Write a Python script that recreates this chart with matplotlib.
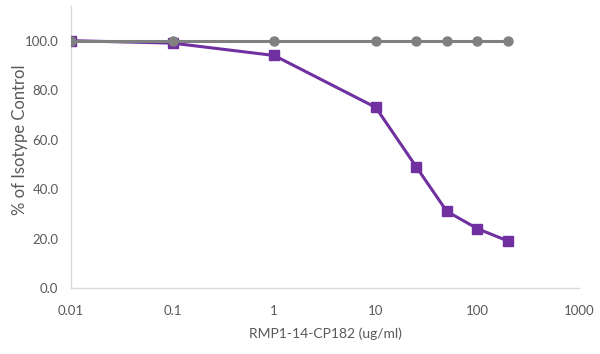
import matplotlib
matplotlib.use("Agg")
import matplotlib.pyplot as plt
from matplotlib.ticker import FixedLocator, FuncFormatter

conc = [0.01, 0.1, 1, 10, 25, 50, 100, 200]
antibody = [100.0, 99.0, 94.0, 73.0, 49.0, 31.0, 24.0, 19.0]
isotype = [100.0, 100.0, 100.0, 100.0, 100.0, 100.0, 100.0, 100.0]

xticks = [0.01, 0.1, 1, 10, 100, 1000]
xtick_labels = ["0.01", "0.1", "1", "10", "100", "1000"]
yticks = [0, 20, 40, 60, 80, 100]

plt.rcParams['font.family'] = ['Lato', 'DejaVu Sans']
text_color = "#595959"

fig = plt.figure(figsize=(6, 3.54), dpi=100)
ax = fig.add_axes([0.1183, 0.1864, 0.8467, 0.7966])

ax.plot(conc, antibody, color="#7030A0", lw=2.2, marker="s", ms=6.5, zorder=3)
ax.plot(conc, isotype, color="#808080", lw=2.2, marker="o", ms=6.5, zorder=4)

ax.set_xscale("log")
ax.set_xlim(0.01, 1000)
ax.set_ylim(0, 114)
ax.xaxis.set_major_locator(FixedLocator(xticks))
ax.xaxis.set_minor_locator(FixedLocator([]))
ax.set_xticklabels(xtick_labels)
ax.set_yticks(yticks)
ax.yaxis.set_major_formatter(FuncFormatter(lambda v, p: "%.1f" % v))

for s in ["top", "right"]:
    ax.spines[s].set_visible(False)
for s in ["left", "bottom"]:
    ax.spines[s].set_color("#D9D9D9")
    ax.spines[s].set_linewidth(1.0)

ax.tick_params(length=0, labelsize=9.5, colors=text_color, pad=9)
ax.tick_params(axis="x", pad=12)
ax.set_xlabel("RMP1-14-CP182 (ug/ml)", fontsize=10, color=text_color, labelpad=8)
ax.set_ylabel("% of Isotype Control", fontsize=12, color=text_color)
ax.yaxis.set_label_coords(-0.085, 0.525)

fig.savefig("out.png", dpi=100)
